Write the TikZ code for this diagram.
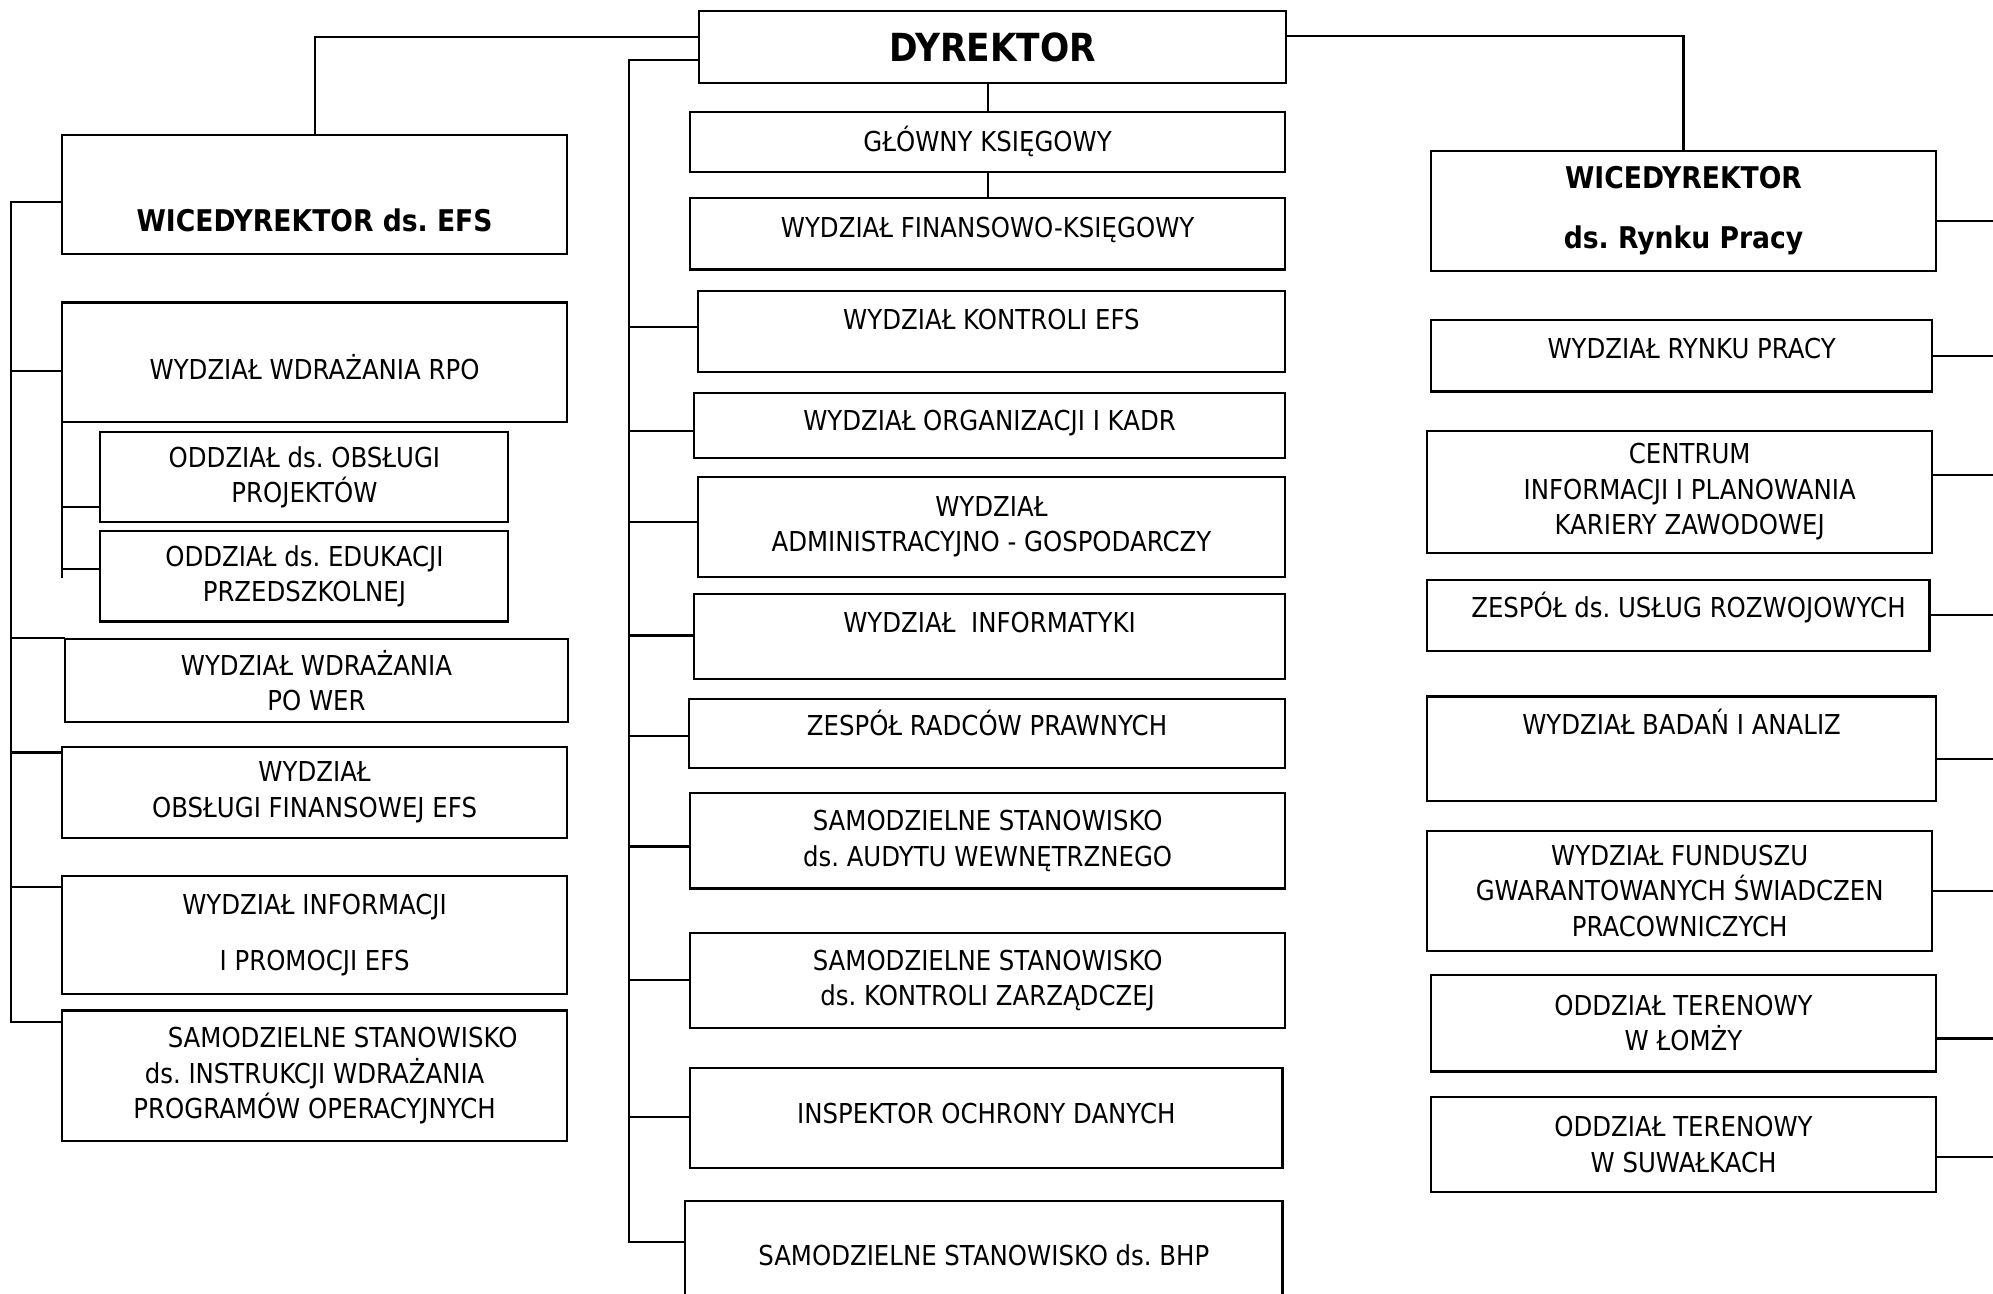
\documentclass[tikz,border=0pt]{standalone}
\usepackage{fontspec}
\setmainfont{DejaVu Sans}[FakeStretch=0.89]
\usepackage{tikz}
\frenchspacing

\begin{document}
\begin{tikzpicture}[x=0.127mm, y=-0.127mm, line width=0.6pt,
  unit/.style 2 args = {draw, align=center, inner sep=0pt, outer sep=0pt,
    minimum width=#1*0.127mm, minimum height=#2*0.127mm,
    font=\fontsize{7.8}{10.1}\selectfont},
  head/.style = {font=\bfseries\fontsize{8.5}{10.5}\selectfont},
  up/.style = {text height=2mm, text depth=#1}]
\useasboundingbox (0,0) rectangle (1568,1018);

% top
\node[unit={462}{56}, font=\bfseries\fontsize{11}{13}\selectfont] (dyr) at (781,37) {DYREKTOR};

% left column
\node[unit={397}{94}, head, text height=7.5mm, text depth=0pt] (efsv) at (247.5,153) {WICEDYREKTOR ds. EFS};
\node[unit={397}{94}, text height=3.5mm, text depth=0pt] (rpo) at (247.5,285) {WYDZIAŁ WDRAŻANIA RPO};
\node[unit={321}{71}] (obsl) at (239.5,375.5) {ODDZIAŁ ds. OBSŁUGI\\PROJEKTÓW};
\node[unit={321}{71}] (edu) at (239.5,453.5) {ODDZIAŁ ds. EDUKACJI\\PRZEDSZKOLNEJ};
\node[unit={396}{65}] (power) at (249,535.5) {WYDZIAŁ WDRAŻANIA\\PO WER};
\node[unit={397}{71}] (finefs) at (247.5,623.5) {WYDZIAŁ\\OBSŁUGI FINANSOWEJ EFS};
\node[unit={397}{93}] (promo) at (247.5,735.5) {WYDZIAŁ INFORMACJI\\[5.8pt]I PROMOCJI EFS};
\node[unit={397}{103}] (instr) at (247.5,846.5) {\hspace*{5.6mm}SAMODZIELNE STANOWISKO\\ds. INSTRUKCJI WDRAŻANIA\\PROGRAMÓW OPERACYJNYCH};

% middle column
\node[unit={468}{47}] (glowny) at (777,111.5) {GŁÓWNY KSIĘGOWY};
\node[unit={468}{56}, up=1.27mm] (fink) at (777,184) {WYDZIAŁ FINANSOWO-KSIĘGOWY};
\node[unit={462}{64}, up=2.54mm] (kontr) at (780,261) {WYDZIAŁ KONTROLI EFS};
\node[unit={465}{51}, up=0.89mm] (kadr) at (778.5,334.5) {WYDZIAŁ ORGANIZACJI I KADR};
\node[unit={462}{79}] (admin) at (780,414.5) {WYDZIAŁ\\ADMINISTRACYJNO - GOSPODARCZY};
\node[unit={465}{67}, up=2.67mm] (infor) at (778.5,500.5) {WYDZIAŁ~~INFORMATYKI};
\node[unit={469}{54}, up=1.52mm] (radcy) at (776.5,577) {ZESPÓŁ RADCÓW PRAWNYCH};
\node[unit={468}{75}] (audyt) at (777,661.5) {SAMODZIELNE STANOWISKO\\ds. AUDYTU WEWNĘTRZNEGO};
\node[unit={468}{75}] (zarz) at (777,771.5) {SAMODZIELNE STANOWISKO\\ds. KONTROLI ZARZĄDCZEJ};
\node[unit={466}{79}, up=0.89mm] (iod) at (776,879.5) {INSPEKTOR OCHRONY DANYCH};
\node[unit={470}{85}] (bhp) at (774,987.5) {SAMODZIELNE STANOWISKO ds. BHP};

% right column
\node[unit={397}{94}, head] (wrp) at (1324.5,166) {WICEDYREKTOR\\[6.5pt]ds. Rynku Pracy};
\node[unit={394}{56}, up=1.52mm] (rynek) at (1323,280) {\hspace*{2mm}WYDZIAŁ RYNKU PRACY};
\node[unit={397}{96}] (centrum) at (1321.5,387) {\hspace*{2mm}CENTRUM\\\hspace*{2mm}INFORMACJI I PLANOWANIA\\\hspace*{2mm}KARIERY ZAWODOWEJ};
\node[unit={395}{56}, up=1.52mm] (zespol) at (1320.5,484) {\hspace*{2mm}ZESPÓŁ ds. USŁUG ROZWOJOWYCH};
\node[unit={400}{82}, up=4.83mm] (badan) at (1323,589) {WYDZIAŁ BADAŃ I ANALIZ};
\node[unit={397}{94}] (fgsp) at (1321.5,701) {WYDZIAŁ FUNDUSZU\\GWARANTOWANYCH ŚWIADCZEN\\PRACOWNICZYCH};
\node[unit={397}{76}] (lomza) at (1324.5,805) {ODDZIAŁ TERENOWY\\W ŁOMŻY};
\node[unit={397}{75}] (suwalki) at (1324.5,900.5) {ODDZIAŁ TERENOWY\\W SUWAŁKACH};

% links from the director
\draw (dyr.west |- 0,29) -| (efsv.north);
\draw (dyr.east |- 0,28) -| (wrp.north);
\draw (dyr.south -| glowny.north) -- (glowny.north);
\draw (glowny.south) -- (fink.north);

% left bus
\coordinate (lb) at (9,159);
\draw (efsv.west |- lb) -- (lb) -- (lb |- 0,804) -- (instr.west |- 0,804);
\foreach \n/\y in {rpo/292, power/502, finefs/592, promo/698}
  \draw (lb |- 0,\y) -- (\n.west |- 0,\y);
\draw (rpo.south west) -- (rpo.west |- 0,455);
\draw (rpo.west |- 0,399) -- (obsl.west |- 0,399);
\draw (rpo.west |- 0,448) -- (edu.west |- 0,448);

% middle bus
\coordinate (mb) at (495,47);
\draw (dyr.west |- mb) -- (mb) -- (mb |- 0,977) -- (bhp.west |- 0,977);
\foreach \n/\y in {kontr/257, kadr/339, admin/411, infor/500, radcy/579, audyt/666, zarz/771, iod/879}
  \draw (mb |- 0,\y) -- (\n.west |- 0,\y);

% right stubs
\coordinate (rb) at (1568,0);
\foreach \n/\y in {wrp/174, rynek/280, centrum/374, zespol/484, badan/597, fgsp/701, lomza/817, suwalki/910}
  \draw (\n.east |- 0,\y) -- (rb |- 0,\y);
\end{tikzpicture}
\end{document}
